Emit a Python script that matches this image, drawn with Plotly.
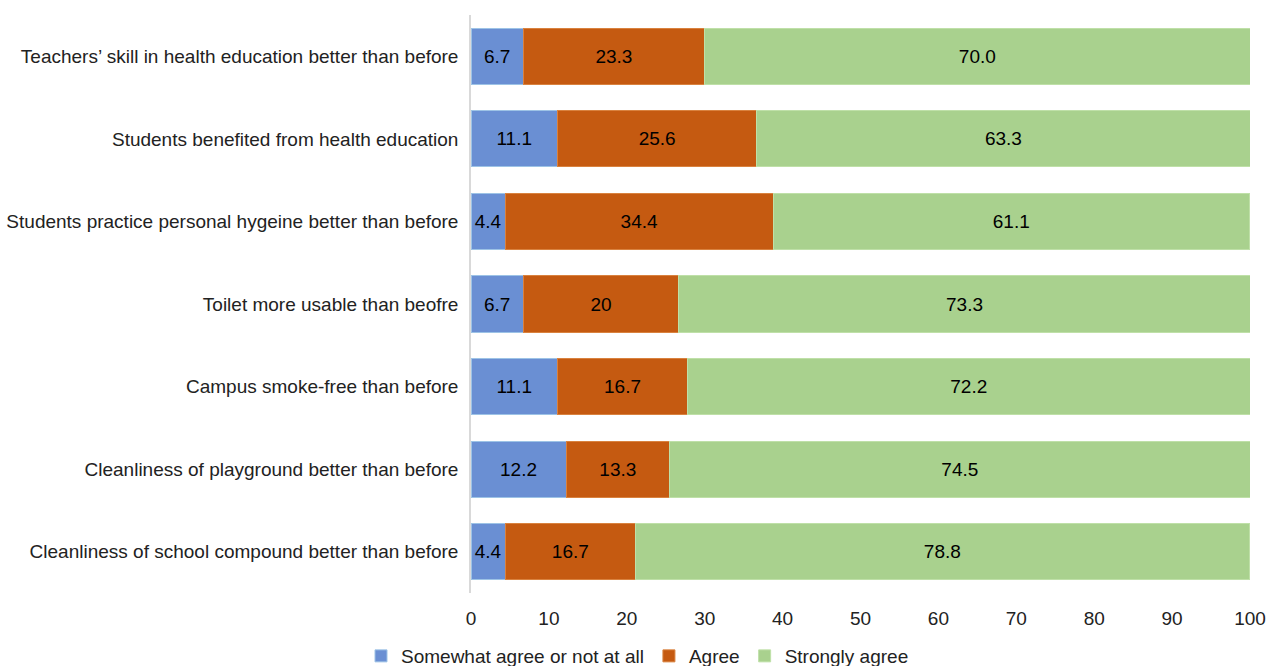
import plotly.graph_objects as go

categories = [
    "Teachers’ skill in health education better than before",
    "Students benefited from health education",
    "Students practice personal hygeine better than before",
    "Toilet more usable than beofre",
    "Campus smoke-free than before",
    "Cleanliness of playground better than before",
    "Cleanliness of school compound better than before",
]
somewhat = [6.7, 11.1, 4.4, 6.7, 11.1, 12.2, 4.4]
agree = [23.3, 25.6, 34.4, 20, 16.7, 13.3, 16.7]
strongly = [70.0, 63.3, 61.1, 73.3, 72.2, 74.5, 78.8]
somewhat_text = ["6.7", "11.1", "4.4", "6.7", "11.1", "12.2", "4.4"]
agree_text = ["23.3", "25.6", "34.4", "20", "16.7", "13.3", "16.7"]
strongly_text = ["70.0", "63.3", "61.1", "73.3", "72.2", "74.5", "78.8"]
series_names = ["Somewhat agree or not at all", "Agree", "Strongly agree"]

colors = ["#6A8FD3", "#C55A11", "#A9D18E"]
edge = ["#9DC3E6", "#D9823F", "#BFE0A8"]
FONT = "Liberation Sans, Arial, sans-serif"
FS = 19

fig = go.Figure()
for name, vals, txt, c, e in zip(series_names, [somewhat, agree, strongly],
                                 [somewhat_text, agree_text, strongly_text], colors, edge):
    fig.add_trace(go.Bar(
        y=categories, x=vals, name=name, orientation="h",
        text=txt, textposition="inside", insidetextanchor="middle",
        textfont=dict(color="black", size=FS, family=FONT),
        marker=dict(color=c, line=dict(color=e, width=1)),
        hoverinfo="x+y+name",
    ))

fig.update_layout(
    barmode="stack",
    bargap=0.32,
    width=1275, height=666,
    margin=dict(l=471, r=25, t=14.6, b=72.6, autoexpand=False),
    paper_bgcolor="white", plot_bgcolor="white",
    font=dict(family=FONT, size=FS, color="#222222"),
    uniformtext=dict(minsize=FS, mode="show"),
    showlegend=True,
    legend=dict(orientation="h", xref="container", x=0.5, xanchor="center",
                yref="container", y=0.015, yanchor="middle",
                font=dict(size=FS, color="#222222"), traceorder="normal",
                itemwidth=30),
)
fig.update_xaxes(range=[0, 100], dtick=10, showgrid=False, zeroline=False,
                 showline=False, ticks="", ticklabelstandoff=12,
                 tickfont=dict(size=FS, color="#222222"))
fig.update_yaxes(autorange="reversed", showgrid=False, showline=True,
                 linecolor="#D9D9D9", linewidth=1.5, ticks="",
                 ticklabelstandoff=7, tickfont=dict(size=FS, color="#222222"))

fig.write_html("out.html")
